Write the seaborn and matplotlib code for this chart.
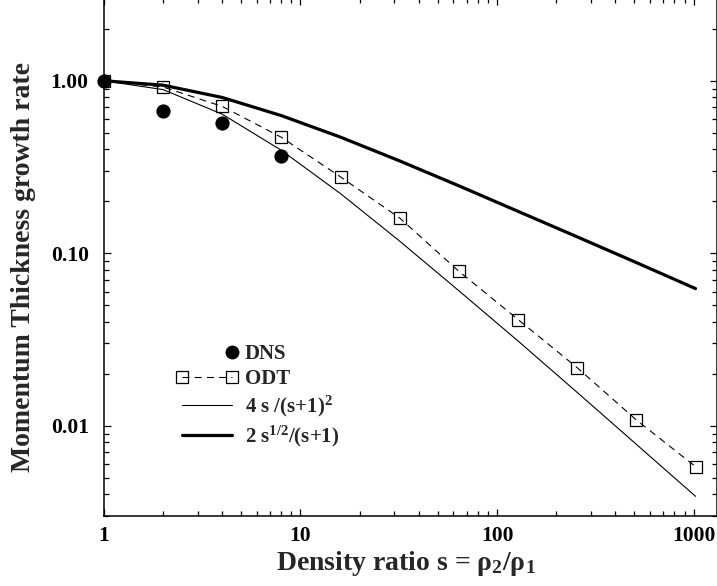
import numpy as np
import pandas as pd
import matplotlib
matplotlib.use("Agg")
import matplotlib.pyplot as plt
import seaborn as sns
from matplotlib.lines import Line2D
from matplotlib.legend_handler import HandlerLine2D
from matplotlib.ticker import LogLocator, NullFormatter

# ---------------- data ----------------
s_dns = [1, 2, 4, 8]
dns_rate = [1.00, 0.67, 0.57, 0.368]

s_odt = [1, 2, 4, 8, 16, 32, 64, 128, 256, 512, 1024]
odt_rate = [1.00, 0.92, 0.71, 0.47, 0.277, 0.160, 0.0786, 0.0413, 0.0217, 0.0108, 0.0058]

s_model = [1, 2, 4, 8, 16, 32, 64, 128, 256, 512, 1024]
model_thin = [1.00, 0.889, 0.640, 0.395, 0.2215, 0.1175, 0.0606, 0.0310, 0.0156, 0.0078, 0.0039]
model_thick = [1.00, 0.943, 0.800, 0.628, 0.471, 0.343, 0.246, 0.175, 0.1245, 0.0883, 0.0624]

x_ticks = [1, 10, 100, 1000]
x_tick_labels = ["1", "10", "100", "1000"]
y_ticks = [0.01, 0.1, 1.0]
y_tick_labels = ["0.01", "0.10", "1.00"]

legend_labels = ["DNS", "ODT", r"4 s /(s+1)$^{2}$", r"2 s$^{1/2}$/(s+1)"]
x_label = r"Density ratio s = ρ$_{2}$/ρ$_{1}$"
y_label = "Momentum Thickness growth rate"

# ---------------- style ----------------
sns.set_theme(style="ticks")
plt.rcParams["font.family"] = ["Liberation Serif", "DejaVu Serif"]
plt.rcParams["font.weight"] = "bold"
plt.rcParams["mathtext.fontset"] = "custom"
plt.rcParams["mathtext.rm"] = "Liberation Serif:bold"
plt.rcParams["mathtext.it"] = "Liberation Serif:bold"
plt.rcParams["mathtext.bf"] = "Liberation Serif:bold"
plt.rcParams["lines.scale_dashes"] = False

fig = plt.figure(figsize=(7.17, 5.86), dpi=100)
ax = fig.add_axes([0.1450, 0.1195, 0.8546, 0.8831])

dashes = (5.0, 3.8)

# model curves
sns.lineplot(x=s_model, y=model_thin, ax=ax, color="black", linewidth=0.8,
             estimator=None, sort=False)
sns.lineplot(x=s_model, y=model_thick, ax=ax, color="black", linewidth=2.3,
             estimator=None, sort=False)
# ODT
sns.lineplot(x=s_odt, y=odt_rate, ax=ax, color="black", linewidth=0.8,
             estimator=None, sort=False, marker="s", markersize=8.5,
             markerfacecolor="none", markeredgecolor="black", markeredgewidth=0.9)
ax.lines[-1].set_dashes(dashes)
# DNS
sns.scatterplot(x=s_dns, y=dns_rate, ax=ax, color="black", s=105, marker="o",
                edgecolor="black", linewidth=0, zorder=5, clip_on=False)

ax.set_xscale("log")
ax.set_yscale("log")
ax.set_xlim(1, 1312)
ax.set_ylim(0.003, 3.0)

ax.set_xticks(x_ticks, labels=x_tick_labels)
ax.set_yticks(y_ticks, labels=y_tick_labels)
ax.xaxis.set_minor_locator(LogLocator(base=10, subs=np.arange(2, 10)))
ax.yaxis.set_minor_locator(LogLocator(base=10, subs=np.arange(2, 10)))
ax.xaxis.set_minor_formatter(NullFormatter())
ax.yaxis.set_minor_formatter(NullFormatter())

ax.tick_params(which="both", direction="in", top=True, right=True, width=0.9,
               colors="black", labelsize=15.5)
ax.tick_params(which="major", length=5.2)
ax.tick_params(which="minor", length=3.3)
ax.tick_params(axis="y", which="major", pad=11)
ax.tick_params(axis="x", which="major", pad=7)
for lab in ax.get_xticklabels() + ax.get_yticklabels():
    lab.set_fontweight("bold")

for sp in ax.spines.values():
    sp.set_linewidth(1.1)
    sp.set_color("black")

ax.set_xlabel(x_label, fontsize=20, fontweight="bold")
ax.set_ylabel(y_label, fontsize=20, fontweight="bold")
ax.xaxis.set_label_coords(0.493, -0.064)
ax.yaxis.set_label_coords(-0.111, 0.481)


class RightMarker(HandlerLine2D):
    """Single marker placed at the right end of the legend handle."""
    def get_xdata(self, legend, xdescent, ydescent, width, height, fontsize):
        xr = np.array([-xdescent + width], dtype=float)
        return xr, xr


h_dns = Line2D([], [], linestyle="none", marker="o", color="black",
               markersize=10, markeredgewidth=0)
h_odt = Line2D([], [], linestyle=(0, dashes), linewidth=0.8, color="black",
               marker="s", markersize=8.5, markerfacecolor="none",
               markeredgecolor="black", markeredgewidth=0.9)
h_thin = Line2D([], [], color="black", linewidth=0.8)
h_thick = Line2D([], [], color="black", linewidth=2.3)

leg = ax.legend([h_dns, h_odt, h_thin, h_thick], legend_labels,
                handler_map={h_dns: RightMarker(numpoints=2),
                             h_odt: HandlerLine2D(numpoints=2, marker_pad=0)},
                loc="lower left", bbox_to_anchor=(0.127, 0.13),
                frameon=False, fontsize=15, handlelength=2.4,
                handletextpad=0.62, labelspacing=0.22, borderpad=0,
                borderaxespad=0)
for t in leg.get_texts():
    t.set_fontweight("bold")

fig.savefig("out.png", dpi=100)
